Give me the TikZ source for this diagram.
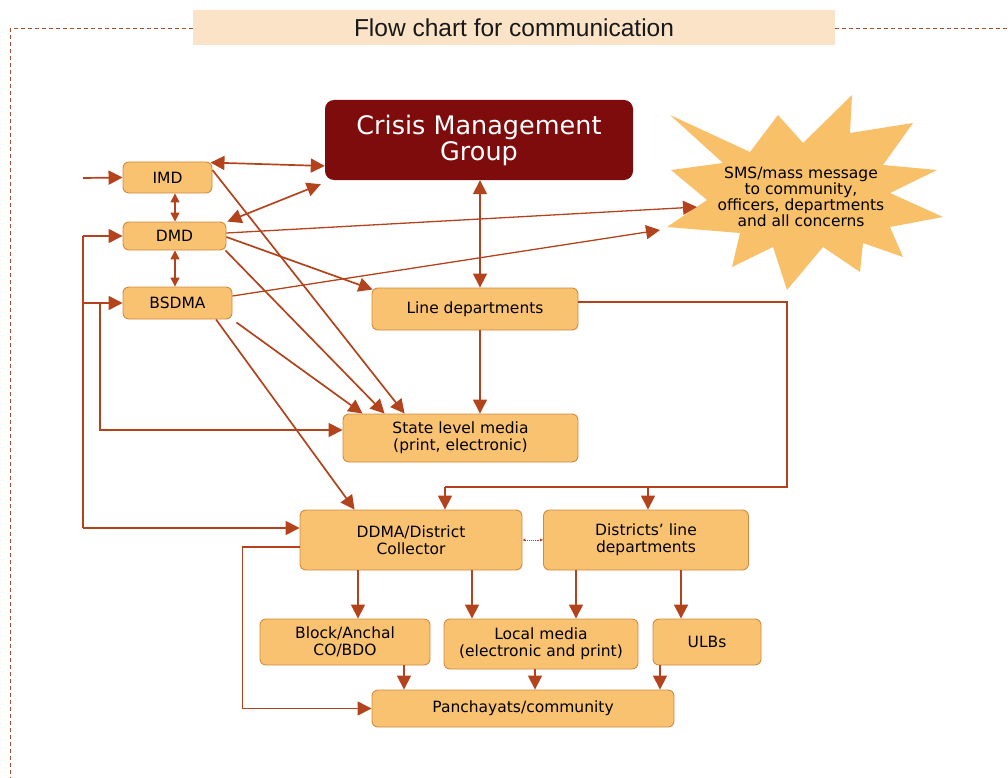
\documentclass[tikz,border=0pt]{standalone}
\usepackage{fontspec}
\setmainfont{DejaVu Sans}
\newfontfamily\titlefont{Liberation Sans}
\usetikzlibrary{arrows.meta,calc}
\definecolor{boxfill}{HTML}{F9C271}
\definecolor{boxdraw}{HTML}{D08A40}
\definecolor{arrowc}{HTML}{B3431C}
\definecolor{cmgfill}{HTML}{7F0C0C}
\definecolor{starfill}{HTML}{F8C068}
\definecolor{titlefill}{HTML}{FBE3C7}
\definecolor{dashc}{HTML}{A8502E}
\begin{document}
\begin{tikzpicture}[x=1pt,y=-1pt,
  box/.style={draw=boxdraw, fill=boxfill, line width=0.9pt, rounded corners=6pt, inner sep=0pt,
    align=center, text=black, font=\fontsize{15.5}{17}\selectfont},
  tipb/.tip={Triangle[length=14pt,width=14pt]},
  tips/.tip={Triangle[length=9pt,width=9pt]},
  conn/.style={draw=arrowc, line width=1.7pt, -tipb},
  dbl/.style={draw=arrowc, line width=1.7pt, tipb-tipb},
  dbls/.style={draw=arrowc, line width=1.5pt, tips-tips},
  plain/.style={draw=arrowc, line width=1.7pt},
  thinconn/.style={draw=arrowc, line width=1.3pt, -tipb},
]
\useasboundingbox (0,0) rectangle (1008,778);

% dashed frame and title
\draw[dashc, line width=1pt, dash pattern=on 4pt off 3pt] (193,29) -- (10,29) -- (10,778);
\draw[dashc, line width=1pt, dash pattern=on 4pt off 3pt] (835,29) -- (1008,29);
\node[fill=titlefill, minimum width=642pt, minimum height=35pt, inner sep=0pt,
  font=\titlefont\fontsize{24.5}{27}\selectfont, text=black!90] (title) at (514,27.5) {Flow chart for communication};

% star
\fill[starfill] (670,115) -- (750,152) -- (778,115) -- (803,143) -- (852,95) -- (850,133)
  -- (913,123) -- (883,165) -- (937,170) -- (890,193) -- (943,217) -- (890,227)
  -- (903,257) -- (863,243) -- (860,272) -- (823,247) -- (787,290) -- (773,247)
  -- (732,267) -- (740,233) -- (667,227) -- (707,200) -- (671,170) -- (723,163) -- cycle;
\node[align=center, inner sep=0pt, text=black, font=\fontsize{15.5}{15}\selectfont] (star) at (801,197)
  {SMS/mass message\\to community,\\officers, departments\\and all concerns};
\coordinate (starA) at (697,207);
\coordinate (starB) at (660,230);

% nodes
\node[draw=none, fill=cmgfill, rounded corners=9pt, minimum width=308pt, minimum height=80pt, inner sep=0pt,
  align=center, text=white, font=\fontsize{25.5}{26}\selectfont] (cmg) at (479,140) {Crisis Management\\Group};
\node[box, minimum width=89pt, minimum height=31pt] (imd) at (167.5,177.5) {IMD};
\node[box, minimum width=103pt, minimum height=28pt] (dmd) at (174.5,236) {DMD};
\node[box, minimum width=109pt, minimum height=32pt] (bsdma) at (177.5,303) {BSDMA};
\node[box, minimum width=206pt, minimum height=42pt] (linedep) at (475,309) {Line departments};
\node[box, minimum width=235pt, minimum height=48pt] (statemedia) at (460.5,438) {State level media\\(print, electronic)};
\node[box, minimum width=222pt, minimum height=60pt] (ddma) at (411,540) {DDMA/District\\Collector};
\node[box, minimum width=205pt, minimum height=60pt] (distline) at (646,540) {Districts' line\\departments};
\node[box, minimum width=170pt, minimum height=46pt] (block) at (345,642) {Block/Anchal\\CO/BDO};
\node[box, minimum width=194pt, minimum height=50pt] (localmedia) at (541,644) {Local media\\(electronic and print)};
\node[box, minimum width=108pt, minimum height=46pt] (ulbs) at (707,642) {ULBs};
\node[box, minimum width=302pt, minimum height=37pt] (panch) at (523,708.5) {Panchayats/community};

% input to IMD
\coordinate (imdin) at (83,178);
\draw[conn] (imdin) -- (imd.west);

% top group connectors
\draw[dbl] ([xshift=-2pt,yshift=-1pt]imd.north east) -- ([yshift=-26pt]cmg.west);
\draw[dbls] ([xshift=7.5pt]imd.south) -- ([xshift=0.5pt]dmd.north);
\draw[dbl] ([xshift=1pt]dmd.north east) -- ([xshift=-4pt,yshift=-4pt]cmg.south west);
\draw[dbls] ([xshift=0.5pt]dmd.south) -- ([xshift=-2.5pt]bsdma.north);
\draw[thinconn] ([yshift=3pt]dmd.east) -- (starA);
\draw[thinconn] ([yshift=7pt]bsdma.east) -- (starB);
\draw[conn] ([yshift=-1pt]dmd.east) -- ([xshift=1pt,yshift=-2pt]linedep.north west);
\draw[conn] ([yshift=7.5pt]imd.east) -- ([xshift=62pt]statemedia.north west);
\draw[conn] ([xshift=-1pt]dmd.south east) -- ([xshift=42pt]statemedia.north west);
\draw[conn] ([xshift=4pt,yshift=-3pt]bsdma.south east) -- ([xshift=20pt]statemedia.north west);
\draw[conn] ([xshift=38.5pt]bsdma.south) -- ([xshift=55pt]ddma.north west);
\draw[dbl] ([xshift=1pt]cmg.south) -- ([xshift=5pt]linedep.north);
\draw[thinconn] ([xshift=5pt]linedep.south) -- ([xshift=19.5pt]statemedia.north);

% line departments bus to district level
\coordinate (busR) at (787,487);
\draw[draw=arrowc, line width=1.4pt] ([yshift=7pt]linedep.east) -| (busR) -- (445,487);
\draw[conn] (445,487) -- ([xshift=34pt]ddma.north);
\draw[conn] (648,487) -- ([xshift=2pt]distline.north);

% left bus
\coordinate (bustop) at (83,236);
\coordinate (busbot) at (83,528);
\coordinate (busmid) at (83,303);
\coordinate (bus2) at (100,303);
\draw[plain] (bustop) -- (busbot);
\draw[conn] (bustop) -- (dmd.west);
\draw[conn] (busmid) -- (bsdma.west);
\draw[conn] (bus2) |- ([yshift=8pt]statemedia.west);
\draw[conn] (busbot) -- ([yshift=12pt]ddma.west);

% district level
\draw[draw=arrowc, line width=0.9pt, densely dotted, {Latex[length=3pt,width=3pt]}-{Latex[length=3pt,width=3pt]}] (ddma.east) -- (distline.west);
\draw[conn] ([xshift=-53pt]ddma.south) -- ([xshift=13pt]block.north);
\draw[conn] ([xshift=61pt]ddma.south) -- ([xshift=-69pt]localmedia.north);
\draw[conn] ([xshift=-70pt]distline.south) -- ([xshift=35pt]localmedia.north);
\draw[conn] ([xshift=35pt]distline.south) -- ([xshift=-26pt]ulbs.north);
\draw[conn] ([xshift=59pt]block.south) -- ([xshift=-119pt]panch.north);
\draw[conn] ([xshift=-6pt]localmedia.south) -- ([xshift=12pt]panch.north);
\draw[conn] ([xshift=-47pt]ulbs.south) -- ([xshift=137pt]panch.north);
\draw[draw=arrowc, line width=1.4pt, -tipb] ([yshift=-7pt]ddma.west) -- ++(-57,0) |- (panch.west);
\end{tikzpicture}
\end{document}
